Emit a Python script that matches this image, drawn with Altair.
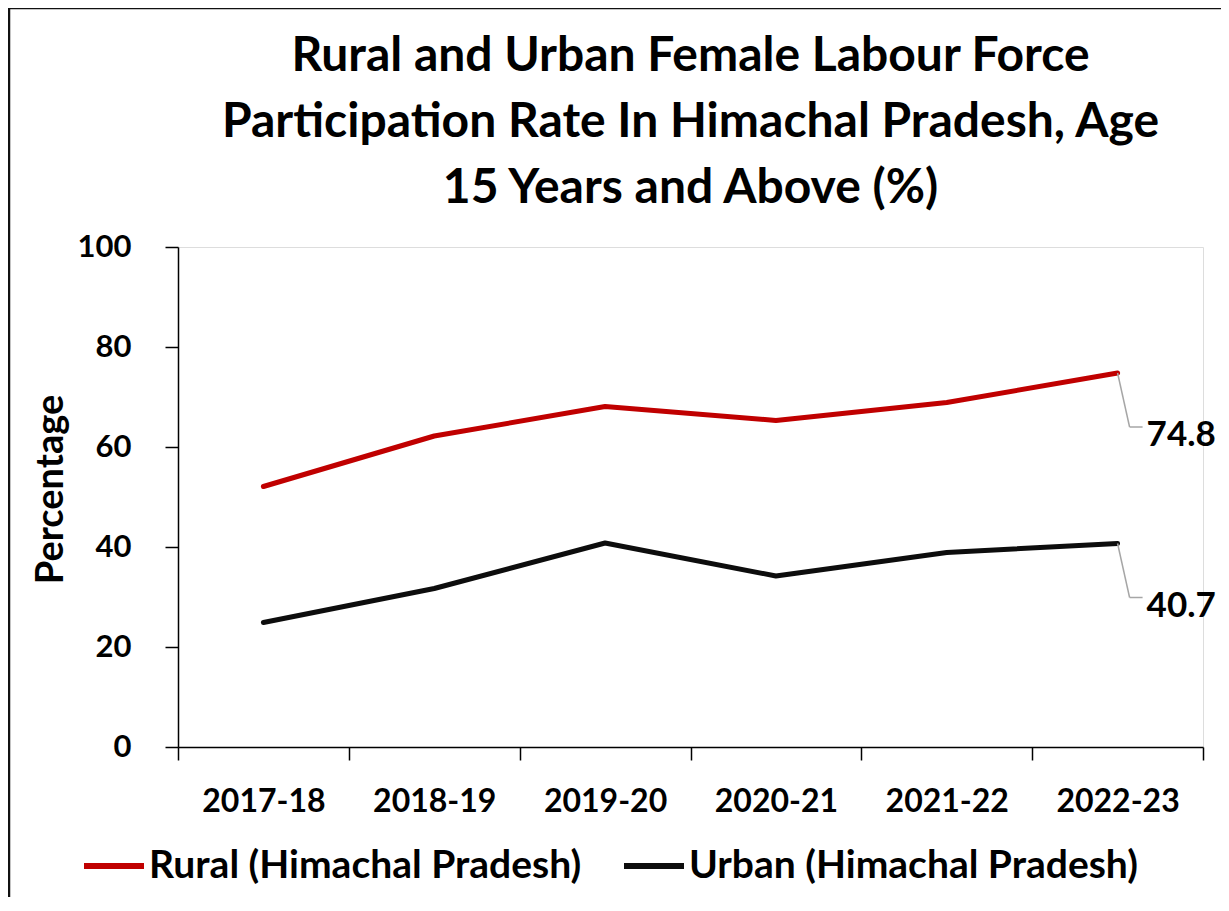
import altair as alt
import pandas as pd

years = ["2017-18", "2018-19", "2019-20", "2020-21", "2021-22", "2022-23"]
rural = [52.1, 62.2, 68.1, 65.3, 68.9, 74.8]
urban = [24.9, 31.7, 40.8, 34.2, 38.9, 40.7]
series_names = ["Rural (Himachal Pradesh)", "Urban (Himachal Pradesh)"]
series_colors = ["#C00000", "#0D0D0D"]
title_lines = [
    "Rural and Urban Female Labour Force",
    "Participation Rate In Himachal Pradesh, Age",
    "15 Years and Above (%)",
]
y_ticks = [0, 20, 40, 60, 80, 100]

rows = []
for name, vals in zip(series_names, [rural, urban]):
    for yr, v in zip(years, vals):
        rows.append({"year": yr, "series": name, "value": v})
df = pd.DataFrame(rows)

FONT = "Lato"

x_enc = alt.X(
    "year:N",
    sort=years,
    scale=alt.Scale(type="band", paddingInner=0, paddingOuter=0),
    axis=alt.Axis(
        title=None,
        labelAngle=0,
        labelFont=FONT,
        labelFontSize=32,
        labelFontWeight="bold",
        labelColor="black",
        labelPadding=26,
        tickBand="extent",
        tickSize=13,
        tickColor="black",
        tickWidth=1.5,
        domainColor="black",
        domainWidth=1.5,
        grid=False,
    ),
)
y_enc = alt.Y(
    "value:Q",
    scale=alt.Scale(domain=[0, 100]),
    axis=alt.Axis(
        title="Percentage",
        values=y_ticks,
        titleFont=FONT,
        titleFontSize=38,
        titleFontWeight="bold",
        titleColor="black",
        titleAngle=-90,
        titleX=-127,
        titleY=242,
        titleAlign="center",
        titleBaseline="middle",
        labelFont=FONT,
        labelFontSize=31,
        labelFontWeight="bold",
        labelColor="black",
        labelPadding=34,
        tickSize=13,
        tickColor="black",
        tickWidth=1.5,
        domainColor="black",
        domainWidth=1.5,
        grid=False,
    ),
)

color_enc = alt.Color(
    "series:N",
    scale=alt.Scale(domain=series_names, range=series_colors),
    legend=alt.Legend(
        title=None,
        orient="none",
        legendX=-97,
        legendY=586,
        direction="horizontal",
        symbolType="stroke",
        symbolStrokeWidth=6,
        symbolSize=3600,
        labelFont=FONT,
        labelFontSize=39,
        labelFontWeight="bold",
        labelColor="black",
        labelOffset=2,
        columnPadding=30,
        labelLimit=700,
    ),
)

base = alt.Chart(df)

lines = base.mark_line(strokeWidth=5, strokeCap="round", strokeJoin="round").encode(
    x=x_enc, y=y_enc, color=color_enc
)

last = base.transform_filter(alt.datum.year == years[-1])

leader_diag = last.mark_rule(color="#A6A6A6", strokeWidth=1.5, x2Offset=12, y2Offset=54).encode(
    x=alt.X("year:N", sort=years),
    x2=alt.X2("year:N"),
    y="value:Q",
    y2=alt.Y2("value:Q"),
)
leader_h = last.mark_rule(
    color="#A6A6A6", strokeWidth=1.5, xOffset=12, x2Offset=25, yOffset=54, y2Offset=54
).encode(
    x=alt.X("year:N", sort=years),
    x2=alt.X2("year:N"),
    y="value:Q",
    y2=alt.Y2("value:Q"),
)
labels = last.mark_text(
    font=FONT, fontSize=35, fontWeight="bold", color="black",
    align="left", baseline="middle", dx=29, dy=62,
).encode(
    x=alt.X("year:N", sort=years),
    y="value:Q",
    text=alt.Text("value:Q", format=".1f"),
)

frame_top = alt.Chart(pd.DataFrame({"k": [0]})).mark_rule(color="#111111", strokeWidth=2.5).encode(
    x=alt.value(-169), x2=alt.value(1043), y=alt.value(-239)
)
frame_left = alt.Chart(pd.DataFrame({"k": [0]})).mark_rule(color="#111111", strokeWidth=2.5).encode(
    x=alt.value(-169), y=alt.value(-239), y2=alt.value(660)
)

chart = (
    alt.layer(lines, leader_diag, leader_h, labels, frame_top, frame_left)
    .properties(
        width=1025,
        height=500,
        autosize=alt.AutoSizeParams(type="none"),
        padding={"left": 170, "top": 239, "right": 18, "bottom": 150},
        title=alt.TitleParams(
            text=title_lines,
            font=FONT,
            fontSize=48,
            fontWeight="bold",
            color="black",
            lineHeight=66,
            anchor="middle",
            frame="group",
            offset=30,
            dy=236,
        ),
    )
    .configure_view(stroke=None)
    .configure(background="white")
)

chart.save("out.html", embed_options={"renderer": "svg", "actions": False})
